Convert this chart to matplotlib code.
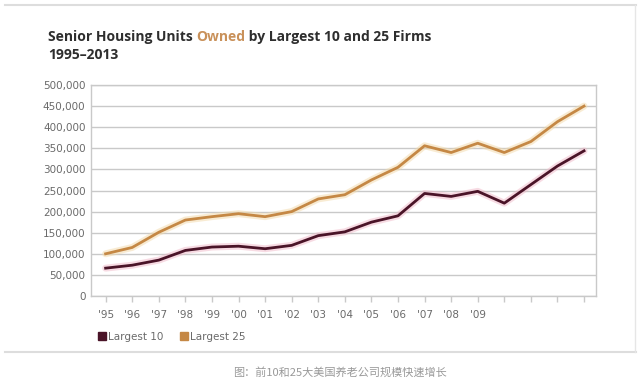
import numpy as np
import matplotlib.pyplot as plt
from matplotlib.lines import Line2D

#------------------------------------------------------------------------------
#   Data
#------------------------------------------------------------------------------
years = list(range(1995, 2014))
tick_labels = ["'95", "'96", "'97", "'98", "'99", "'00", "'01", "'02", "'03",
               "'04", "'05", "'06", "'07", "'08", "'09", "", "", "", ""]
largest_10 = [66000, 73000, 85000, 108000, 116000, 118000, 112000, 120000, 143000,
              152000, 175000, 190000, 243000, 236000, 248000, 220000, 264000, 308000, 344000]
largest_25 = [100000, 115000, 151000, 180000, 188000, 195000, 188000, 200000, 230000,
              240000, 275000, 305000, 356000, 340000, 362000, 340000, 366000, 413000, 450000]

c10 = '#4a1428'
c25 = '#c58845'
grid_c = '#c9c9c9'
text_c = '#6a6a6a'

#------------------------------------------------------------------------------
#   Figure
#------------------------------------------------------------------------------
fig = plt.figure(figsize=(6.4, 3.84), dpi=100)
fig.patch.set_facecolor('white')

# card borders
fig.add_artist(Line2D([5/640, 636/640], [1 - 5/384, 1 - 5/384], color='#dddddd', lw=1.5))
fig.add_artist(Line2D([5/640, 636/640], [1 - 352/384, 1 - 352/384], color='#dddddd', lw=1.5))
fig.add_artist(Line2D([635/640, 635/640], [1 - 352/384, 1 - 5/384], color='#e6e6e6', lw=1))

ax = fig.add_axes([91/640, 1 - 296/384, 505/640, 211/384])
x = np.arange(len(years))

for vals, col, halo in [(largest_25, c25, '#f3d9a8'), (largest_10, c10, '#f0b8c8')]:
    ax.plot(x, vals, color=halo, lw=5, alpha=0.5, solid_capstyle='round', zorder=2)
    ax.plot(x, vals, color=col, lw=2, solid_joinstyle='round', zorder=3)

ax.set_xlim(-0.55, 18.45)
ax.set_ylim(0, 500000)
ax.set_yticks(np.arange(0, 500001, 50000))
ax.set_yticklabels([f'{v:,}' for v in range(0, 500001, 50000)])
ax.set_xticks(x)
ax.set_xticklabels(tick_labels)
ax.yaxis.grid(True, color=grid_c, lw=1)
ax.set_axisbelow(True)
for s in ax.spines.values():
    s.set_color(grid_c)
    s.set_linewidth(1)
ax.tick_params(axis='y', length=0, pad=4, labelsize=7.5, labelcolor=text_c)
ax.tick_params(axis='x', length=4, width=1, color=grid_c, pad=6, labelsize=7.5, labelcolor=text_c)

# legend
handles = [Line2D([], [], marker='s', ls='none', color=c10, markersize=6),
           Line2D([], [], marker='s', ls='none', color=c25, markersize=6)]
fig.legend(handles, ['Largest 10', 'Largest 25'], loc='center left',
           bbox_to_anchor=(97/640, 1 - 337/384), ncol=2, frameon=False,
           fontsize=7.5, labelcolor=text_c, handletextpad=0.1, columnspacing=1.4,
           handlelength=1.0, borderpad=0, borderaxespad=0)

# title with coloured word
title_kw = dict(fontsize=10, fontweight='bold', family='Open Sans')
t1 = fig.text(48/640, 1 - 37/384, 'Senior Housing Units ', color='#2e2e2e', va='center', **title_kw)
t2 = ax.annotate('Owned', xycoords=t1, xy=(1, 0), va='bottom', color='#c9915a', **title_kw)
t3 = ax.annotate(' by Largest 10 and 25 Firms', xycoords=t2, xy=(1, 0), va='bottom',
                 color='#2e2e2e', **title_kw)
fig.text(48/640, 1 - 55/384, '1995\u20132013', color='#2e2e2e', va='center', **title_kw)

# caption
fig.text(340/640, 1 - 372/384, '图：前10和25大美国养老公司规模快速增长', color='#999999',
         fontsize=8, family=['Noto Sans CJK SC', 'DejaVu Sans'], ha='center', va='center')

fig.savefig('out.png', dpi=100)
